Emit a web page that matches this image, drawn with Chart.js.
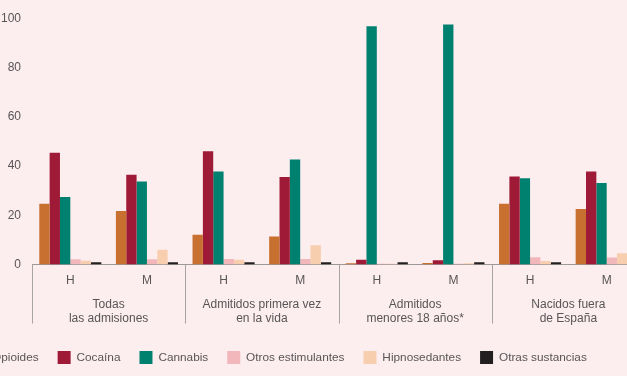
<!DOCTYPE html>
<html>
<head>
<meta charset="utf-8">
<script src="https://cdn.jsdelivr.net/npm/chart.js@4/dist/chart.umd.min.js"></script>
<style>
  html, body { margin: 0; padding: 0; background: #fcedef; overflow: hidden; width: 627px; height: 376px; }
  #wrap { position: absolute; left: -91px; top: 0; width: 736px; height: 376px; }
</style>
</head>
<body>
<div id="wrap"><canvas id="drugChart"></canvas></div>
<script>
// Categories
const sexLabels = ['H', 'M', 'H', 'M', 'H', 'M', 'H', 'M'];
const groupLabels = [
    ['Todas', 'las admisiones'],
    ['Admitidos primera vez', 'en la vida'],
    ['Admitidos', 'menores 18 años*'],
    ['Nacidos fuera', 'de España']
];
const yTicks = [0, 20, 40, 60, 80, 100];

// Series (% per admission group)
const opioides      = [24.7, 21.8, 12.1, 11.4, 0.5, 0.7, 24.7, 22.6];
const cocaina       = [45.4, 36.5, 46.0, 35.6, 2.0, 1.8, 35.8, 37.8];
const cannabis      = [27.4, 33.7, 37.8, 42.7, 96.7, 97.4, 35.0, 33.1];
const otrosEstim    = [2.2, 2.2, 2.3, 2.3, 0.3, 0.3, 3.0, 2.9];
const hipnosedantes = [1.6, 6.0, 2.0, 7.9, 0.3, 0.5, 1.5, 4.6];
const otrasSust     = [1.0, 1.0, 1.0, 1.0, 1.0, 1.0, 1.0, 1.0];

const textColor = '#585556';
const font = { family: "'Liberation Sans', Arial, sans-serif", size: 12 };

// Vertical separators between the admission groups
const groupSeparators = {
    id: 'groupSeparators',
    afterDraw(chart) {
        const g = chart.scales.group;
        const ctx = chart.ctx;
        const half = (g.getPixelForValue(1) - g.getPixelForValue(0)) / 2;
        ctx.save();
        ctx.strokeStyle = '#a9a3a4';
        ctx.lineWidth = 1;
        for (let i = 0; i < groupLabels.length; i++) {
            const x = Math.round(g.getPixelForValue(i) - half) + 0.5;
            ctx.beginPath();
            ctx.moveTo(x, chart.chartArea.bottom);
            ctx.lineTo(x, chart.chartArea.bottom + 59);
            ctx.stroke();
        }
        ctx.restore();
    }
};

const ds = (label, data, color) => ({
    label: label,
    data: data,
    backgroundColor: color,
    borderWidth: 0,
    categoryPercentage: 0.81,
    barPercentage: 1.0
});

new Chart(document.getElementById('drugChart'), {
    type: 'bar',
    data: {
        labels: sexLabels,
        datasets: [
            ds('Opioides', opioides, '#c8702f'),
            ds('Cocaína', cocaina, '#9e1a36'),
            ds('Cannabis', cannabis, '#008170'),
            ds('Otros estimulantes', otrosEstim, '#f2b7ba'),
            ds('Hipnosedantes', hipnosedantes, '#f8cfae'),
            ds('Otras sustancias', otrasSust, '#231f20')
        ]
    },
    options: {
        responsive: true,
        maintainAspectRatio: false,
        animation: false,
        layout: { padding: { top: 18, left: 6, right: 0, bottom: 2 } },
        plugins: {
            tooltip: { enabled: false },
            legend: {
                position: 'bottom',
                labels: {
                    boxWidth: 13,
                    boxHeight: 13,
                    padding: 19,
                    color: textColor,
                    font: { family: font.family, size: 11.8 }
                }
            }
        },
        scales: {
            x: {
                position: 'bottom',
                offset: true,
                grid: { display: false, drawTicks: false },
                border: { display: true, color: '#9d9798', width: 1 },
                ticks: { color: textColor, font: font, padding: 9, autoSkip: false, maxRotation: 0 }
            },
            group: {
                type: 'category',
                labels: groupLabels,
                position: 'bottom',
                offset: true,
                grid: { display: false, drawTicks: false },
                border: { display: false },
                ticks: { color: textColor, font: font, padding: 0, autoSkip: false, maxRotation: 0 },
                afterFit(scale) {
                    scale.height = 35;
                }
            },
            y: {
                min: 0,
                max: 100,
                afterBuildTicks(scale) {
                    scale.ticks = yTicks.map(v => ({ value: v }));
                },
                afterFit(scale) {
                    scale.width = 117;
                },
                grid: { display: false, drawTicks: false },
                border: { display: false },
                ticks: { color: textColor, font: font, padding: 11 }
            }
        }
    },
    plugins: [groupSeparators]
});
</script>
</body>
</html>
